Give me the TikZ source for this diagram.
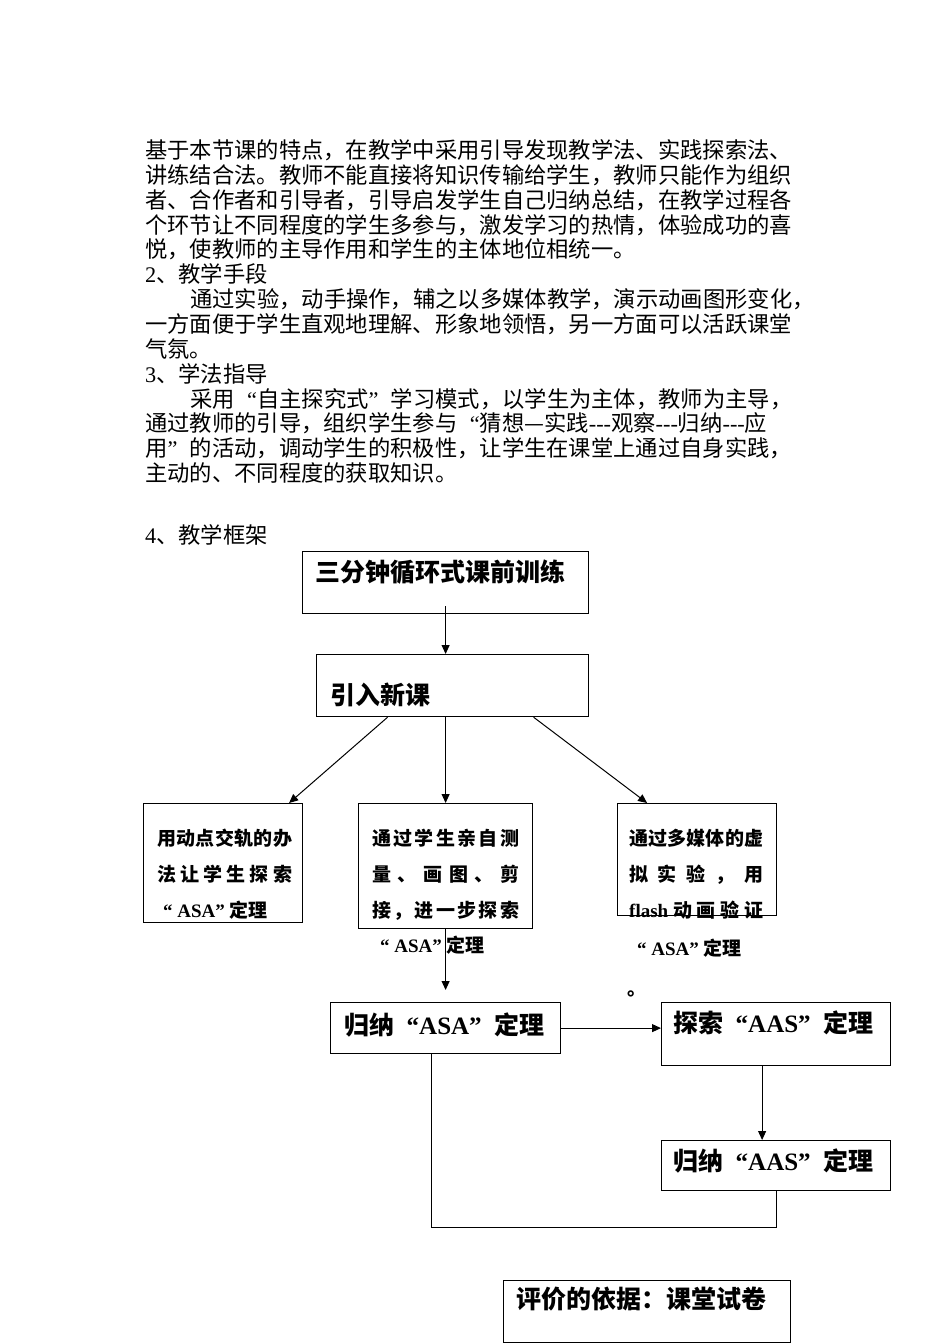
\documentclass[tikz,border=0pt]{standalone}
\usepackage{fontspec}
\newfontfamily\cjk{Noto Sans CJK SC}
\newfontfamily\lat{Liberation Serif}
\usetikzlibrary{arrows.meta,calc}
\newcommand\lqt{\makebox[1em][r]{\lat “}}
\newcommand\rqt{\makebox[1em][l]{\lat ”}}
\tikzset{
  bodytxt/.style={font=\cjk\fontsize{22.3}{25}\selectfont, anchor=base west, inner sep=0pt},
  bigtxt/.style={font=\cjk\bfseries\fontsize{25}{28}\selectfont, anchor=base west, inner sep=0pt},
  smalltxt/.style={font=\cjk\bfseries\fontsize{19}{22}\selectfont, anchor=base west, inner sep=0pt},
  box/.style={draw, line width=1.2pt, anchor=north west, inner sep=0pt},
  arr/.style={line width=1pt, -{Triangle[length=9pt,width=8pt]}},
  link/.style={line width=1pt}
}
\begin{document}
\begin{tikzpicture}[x=1pt,y=-1pt]
\useasboundingbox (0,0) rectangle (950,1344);
\node[bodytxt] (line1) at (145,158.5) {基于本节课的特点，在教学中采用引导发现教学法、实践探索法、};
\node[bodytxt] (line2) at (145,183.4) {讲练结合法。教师不能直接将知识传输给学生，教师只能作为组织};
\node[bodytxt] (line3) at (145,208.2) {者、合作者和引导者，引导启发学生自己归纳总结，在教学过程各};
\node[bodytxt] (line4) at (145,233.1) {个环节让不同程度的学生多参与，激发学习的热情，体验成功的喜};
\node[bodytxt] (line5) at (145,257.9) {悦，使教师的主导作用和学生的主体地位相统一。};
\node[bodytxt] (line6) at (145,282.8) {{\lat 2}、教学手段};
\node[bodytxt] (line7) at (190,307.6) {通过实验，动手操作，辅之以多媒体教学，演示动画图形变化，};
\node[bodytxt] (line8) at (145,332.5) {一方面便于学生直观地理解、形象地领悟，另一方面可以活跃课堂};
\node[bodytxt] (line9) at (145,357.3) {气氛。};
\node[bodytxt] (line10) at (145,382.2) {{\lat 3}、学法指导};
\node[bodytxt] (line11) at (190,407.0) {采用\lqt 自主探究式\rqt 学习模式，以学生为主体，教师为主导，};
\node[bodytxt] (line12) at (145,431.9) {通过教师的引导，组织学生参与\lqt 猜想—实践{\lat -{}-{}-}观察{\lat -{}-{}-}归纳{\lat -{}-{}-}应};
\node[bodytxt] (line13) at (145,456.7) {用\rqt 的活动，调动学生的积极性，让学生在课堂上通过自身实践，};
\node[bodytxt] (line14) at (145,481.6) {主动的、不同程度的获取知识。};
\node[bodytxt] (line15) at (145,543.5) {{\lat 4}、教学框架};

\node[box, minimum width=286pt, minimum height=62pt] (train) at (302,551) {};
\node[bigtxt] (traintxt) at (315,581) {三分钟循环式课前训练};
\node[box, minimum width=272pt, minimum height=62pt] (intro) at (316,654) {};
\node[bigtxt] (introtxt) at (330,704.5) {引入新课};

\node[box, minimum width=159pt, minimum height=119pt] (c1) at (143,803) {};
\node[smalltxt] (c1a) at (157,845.2) {\makebox[135pt][s]{用\hfill 动\hfill 点\hfill 交\hfill 轨\hfill 的\hfill 办}};
\node[smalltxt] (c1b) at (157,881.2) {\makebox[135pt][s]{法\hfill 让\hfill 学\hfill 生\hfill 探\hfill 索}};
\node[smalltxt] (c1c) at (163,917.2) {{\lat “ ASA”} 定理};
\node[box, minimum width=174pt, minimum height=125pt] (c2) at (358,803) {};
\node[smalltxt] (c2a) at (372,845.2) {\makebox[147pt][s]{通\hfill 过\hfill 学\hfill 生\hfill 亲\hfill 自\hfill 测}};
\node[smalltxt] (c2b) at (372,881.2) {\makebox[147pt][s]{量\hfill 、\hfill 画\hfill 图\hfill 、\hfill 剪}};
\node[smalltxt] (c2c) at (372,917.2) {\makebox[147pt][s]{接\hfill ，\hfill 进\hfill 一\hfill 步\hfill 探\hfill 索}};
\node[smalltxt] (c2d) at (380,952.2) {{\lat “ ASA”} 定理};
\node[box, minimum width=159pt, minimum height=112pt] (c3) at (617,803) {};
\node[smalltxt] (c3a) at (629,845.2) {\makebox[134pt][s]{通\hfill 过\hfill 多\hfill 媒\hfill 体\hfill 的\hfill 虚}};
\node[smalltxt] (c3b) at (629,881.2) {\makebox[134pt][s]{拟\hfill 实\hfill 验\hfill ，\hfill 用}};
\node[smalltxt] (c3c) at (629,917.2) {\makebox[134pt][s]{{\lat flash}\hfill 动\hfill 画\hfill 验\hfill 证}};
\node[smalltxt] (c3d) at (637,955.2) {{\lat “ ASA”} 定理};
\node[smalltxt] (c3e) at (627,995) {。};

\node[box, minimum width=230pt, minimum height=51pt] (asa) at (330,1002) {};
\node[bigtxt] (asatxt) at (344,1034.5) {归纳\lqt{\lat ASA}\rqt 定理};
\node[box, minimum width=229pt, minimum height=63pt] (explore) at (661,1002) {};
\node[bigtxt] (exploretxt) at (673,1032.5) {探索\lqt{\lat AAS}\rqt 定理};
\node[box, minimum width=229pt, minimum height=50pt] (aas) at (661,1140) {};
\node[bigtxt] (aastxt) at (673,1170.5) {归纳\lqt{\lat AAS}\rqt 定理};
\node[box, minimum width=287pt, minimum height=62pt] (eval) at (503,1280) {};
\node[bigtxt] (evaltxt) at (516,1308.5) {评价的依据：课堂试卷};

\draw[arr] ($(train.south)+(0,-8)$) -- (train.south |- intro.north);
\draw[arr] ($(intro.south)+(-65,0)$) -- ($(c1.north)+(66,0)$);
\draw[arr] (c2.north |- intro.south) -- (c2.north);
\draw[arr] ($(intro.south)+(81,0)$) -- ($(c3.north)+(-50,0)$);
\draw[arr, shorten >=12pt] (c2.south) -- (c2.south |- asa.north);
\draw[arr] (asa.east) -- (asa.east -| explore.west);
\coordinate (ef) at ($(explore.south)+(-14,0)$);
\draw[arr] (ef) -- (ef |- aas.north);
\coordinate (back) at ($(asa.south)+(-14,0)$);
\draw[link] (back) |- ($(aas.south)+(0,36)$) -- (aas.south);
\end{tikzpicture}
\end{document}
